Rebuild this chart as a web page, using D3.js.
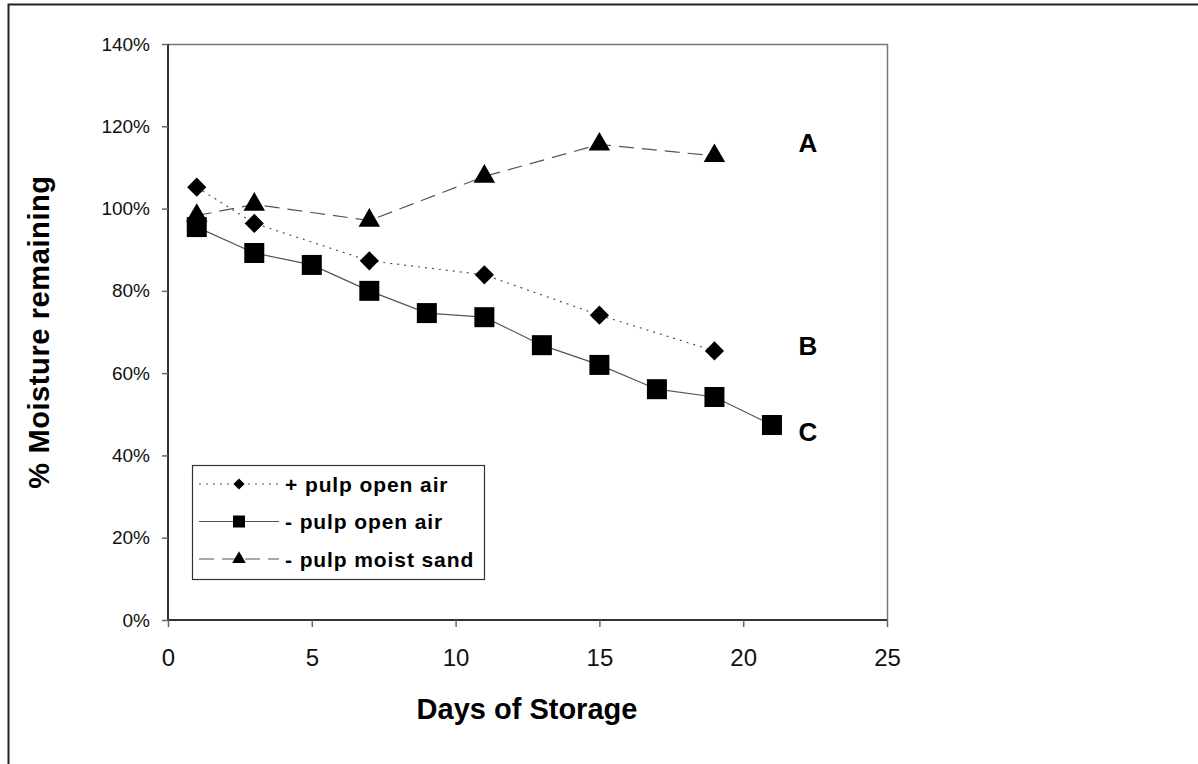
<!DOCTYPE html>
<html>
<head>
<meta charset="utf-8">
<script src="https://cdn.jsdelivr.net/npm/d3@7"></script>
<style>
  body { margin: 0; background: #fff; }
  text { font-family: "Liberation Sans", Arial, sans-serif; }
</style>
</head>
<body>
<script>
// data
let daysPulpAir = [1, 3, 7, 11, 15, 19];
let pulpAir = [105.2, 96.4, 87.3, 83.9, 74.1, 65.4];
let daysNoPulpAir = [1, 3, 5, 7, 9, 11, 13, 15, 17, 19, 21];
let noPulpAir = [95.5, 89.2, 86.3, 80.0, 74.6, 73.6, 66.8, 62.0, 56.1, 54.2, 47.4];
let daysSand = [1, 3, 7, 11, 15, 19];
let sand = [98.3, 101.0, 97.1, 107.8, 115.6, 112.8];
let xTicks = [0, 5, 10, 15, 20, 25];
let yTicks = [0, 20, 40, 60, 80, 100, 120, 140];
let seriesNames = ["+ pulp open air", "- pulp open air", "- pulp moist sand"];
let endLabels = [["A", 116.1], ["B", 66.6], ["C", 45.9]];

let width = 1198, height = 764;
let pLeft = 168, pRight = 887, pTop = 44, pBottom = 620;

let x = d3.scaleLinear([0, 25], [pLeft, pRight]);
let y = d3.scaleLinear([0, 140], [pBottom, pTop]);

let svg = d3.select("body").append("svg")
  .attr("width", width).attr("height", height);

// outer frame
svg.append("rect").attr("x", 8.5).attr("y", 4.5)
  .attr("width", 1300).attr("height", 900)
  .attr("fill", "none").attr("stroke", "#222").attr("stroke-width", 2);

// plot box top and right
svg.append("path")
  .attr("d", `M${pLeft},${pTop}.5H${pRight}.5V${pBottom}`)
  .attr("fill", "none").attr("stroke", "#777").attr("stroke-width", 1.5);

// axes
let yAxis = svg.append("g").attr("transform", `translate(${pLeft},0)`)
  .call(d3.axisLeft(y).tickValues(yTicks).tickSize(6).tickPadding(12).tickFormat(d => d + "%"));
let xAxis = svg.append("g").attr("transform", `translate(0,${pBottom})`)
  .call(d3.axisBottom(x).tickValues(xTicks).tickSize(7).tickPadding(22));
[yAxis, xAxis].forEach(a => {
  a.select(".domain").attr("stroke", "#333").attr("stroke-width", 2);
  a.selectAll(".tick line").attr("stroke", "#666").attr("stroke-width", 1.5);
  a.selectAll("text").attr("fill", "#111")
    .style("font-family", "'Liberation Sans', Arial, sans-serif");
});
yAxis.selectAll("text").style("font-size", "19px");
xAxis.selectAll("text").style("font-size", "24px");
// domains without outer ticks overshoot
yAxis.select(".domain").attr("d", `M0,${pTop}V${pBottom}`);
xAxis.select(".domain").attr("d", `M${pLeft},0H${pRight}`);

// symbols
let diamond = d3.symbol().type(d3.symbolDiamond2);
let square = d3.symbol().type(d3.symbolSquare);
let triangle = d3.symbol().type(d3.symbolTriangle);

function drawLine(days, vals, dash) {
  let pts = days.map((d, i) => [d, vals[i]]);
  svg.append("path").datum(pts)
    .attr("d", d3.line().x(d => x(d[0])).y(d => y(d[1])))
    .attr("fill", "none").attr("stroke", "#555").attr("stroke-width", 1.2)
    .attr("stroke-dasharray", dash);
  return pts;
}

let sandPts = drawLine(daysSand, sand, "15,8");
let noPts = drawLine(daysNoPulpAir, noPulpAir, null);
let airPts = drawLine(daysPulpAir, pulpAir, "2,5");

svg.selectAll(".tri").data(sandPts).enter().append("path")
  .attr("d", triangle.size(200)())
  .attr("transform", d => `translate(${x(d[0])},${y(d[1])})`)
  .attr("fill", "#000");
svg.selectAll(".sq").data(noPts).enter().append("path")
  .attr("d", square.size(400)())
  .attr("transform", d => `translate(${x(d[0])},${y(d[1])})`)
  .attr("fill", "#000");
svg.selectAll(".dia").data(airPts).enter().append("path")
  .attr("d", diamond.size(235)())
  .attr("transform", d => `translate(${x(d[0])},${y(d[1])})`)
  .attr("fill", "#000");

// end labels
svg.selectAll(".endlab").data(endLabels).enter().append("text")
  .attr("x", 808).attr("y", d => y(d[1]))
  .attr("text-anchor", "middle").attr("dy", "0.36em")
  .attr("font-size", 26).attr("font-weight", "bold").text(d => d[0]);

// axis titles
svg.append("text").attr("x", 527).attr("y", 719)
  .attr("text-anchor", "middle").attr("font-size", 29).attr("font-weight", "bold")
  .text("Days of Storage");
svg.append("text")
  .attr("transform", `translate(49,${(pTop + pBottom) / 2}) rotate(-90)`)
  .attr("text-anchor", "middle").attr("font-size", 29).attr("font-weight", "bold")
  .attr("letter-spacing", 0.6)
  .text("% Moisture remaining");

// legend
let lg = svg.append("g");
lg.append("rect").attr("x", 192.5).attr("y", 465.5).attr("width", 292).attr("height", 114)
  .attr("fill", "#fff").attr("stroke", "#333").attr("stroke-width", 1.2);
let legendDash = ["2,5", null, "15,8"];
let legendSym = [diamond.size(80)(), square.size(144)(), triangle.size(80)()];
seriesNames.forEach((name, i) => {
  let ly = 484 + i * 37.5;
  lg.append("line").attr("x1", 199).attr("x2", 279).attr("y1", ly).attr("y2", ly)
    .attr("stroke", "#555").attr("stroke-width", 1.2).attr("stroke-dasharray", legendDash[i]);
  lg.append("path").attr("d", legendSym[i]).attr("transform", `translate(239,${ly})`).attr("fill", "#000");
  lg.append("text").attr("x", 285).attr("y", ly).attr("dy", "0.36em")
    .attr("font-size", 21).attr("font-weight", "bold").attr("letter-spacing", 0.9).text(name);
});
</script>
</body>
</html>
